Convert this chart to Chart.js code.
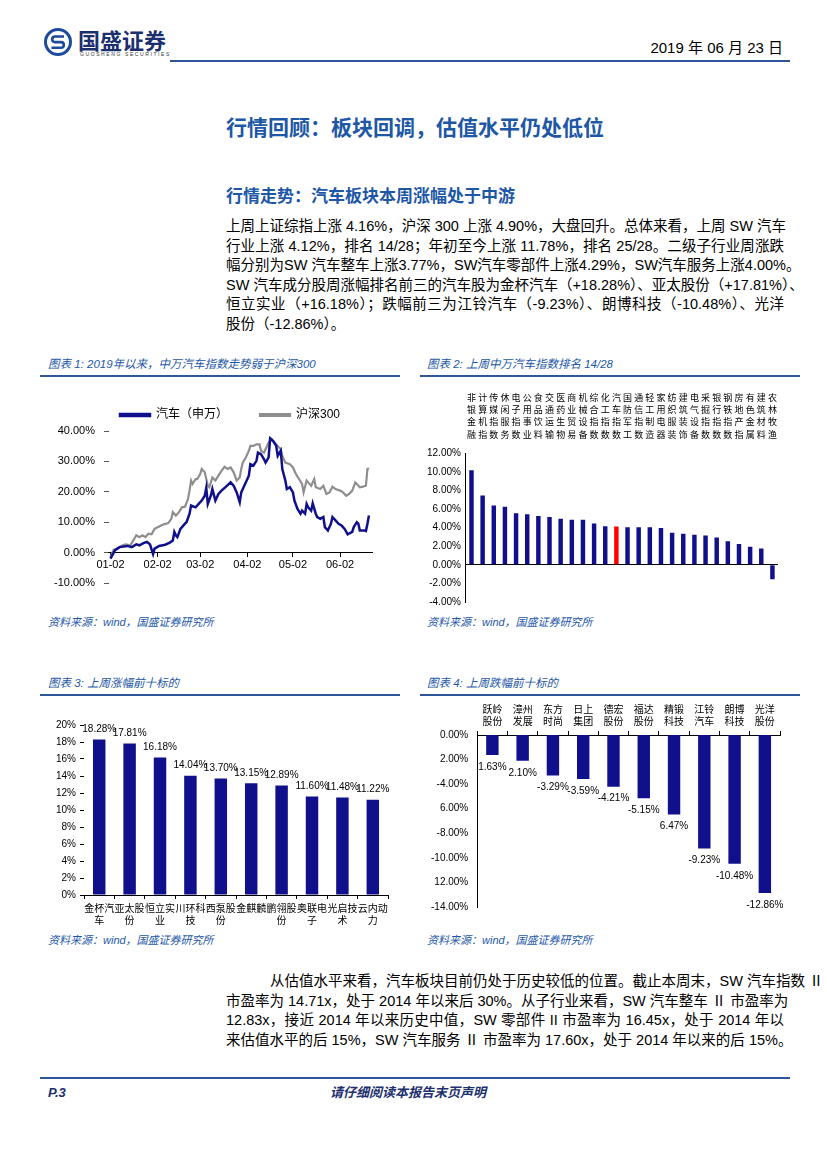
<!DOCTYPE html>
<html lang="zh-CN">
<head>
<meta charset="utf-8">
<title>汽车行业周报 P.3</title>
<script src="https://cdn.jsdelivr.net/npm/chart.js@4.4.1/dist/chart.umd.min.js"></script>
<style>
  html, body { margin: 0; padding: 0; background: #fff; }
  #page { position: relative; width: 827px; height: 1170px; overflow: hidden;
    font-family: "Liberation Sans", "Noto Sans CJK SC", sans-serif; color: #000; }
  .abs { position: absolute; white-space: nowrap; }
  .rule { position: absolute; height: 2px; background: #2d5597; }
  .title { left: 226px; top: 115px; font-size: 21px; line-height: 26px; font-weight: bold; color: #1d57a5; }
  .sub { left: 226px; top: 186px; font-size: 17px; line-height: 22px; font-weight: bold; color: #1d57a5; }
  .para { position: absolute; left: 226px; width: 558px; font-size: 14.5px; line-height: 19.5px; }
  .para div { white-space: nowrap; text-align: justify; text-align-last: justify; }
  .para div.last { text-align-last: left; }
  .cap { font-size: 11.5px; line-height: 14px; font-style: italic; color: #1d57a5; }
  .src { font-size: 11px; line-height: 14px; font-style: italic; color: #1d57a5; }
  canvas { position: absolute; }
</style>
</head>
<body>
<div id="page">
  <!-- header -->
  <svg class="abs" style="left:43px;top:27px" width="30" height="30" viewBox="0 0 30 30">
    <circle cx="15" cy="15" r="12.5" fill="none" stroke="#1d4b9b" stroke-width="3"/>
    <path d="M21 9.5 H12 a2.8 2.8 0 0 0 0 5.6 h6 a2.8 2.8 0 0 1 0 5.6 H8.5" fill="none" stroke="#1d4b9b" stroke-width="2.6"/>
  </svg>
  <div class="abs" style="left:78px;top:26px;font-size:22px;line-height:26px;font-weight:bold;color:#1c2f6e;font-family:'Noto Sans CJK SC'">国盛证券</div>
  <div class="abs" style="left:80px;top:51px;font-size:5px;line-height:6px;letter-spacing:1.6px;color:#333">GUOSHENG SECURITIES</div>
  <div class="abs" style="right:44px;top:39px;font-size:15px;line-height:18px">2019 年 06 月 23 日</div>
  <div class="rule" style="left:170px;top:60px;width:620px"></div>

  <div class="abs title">行情回顾：板块回调，估值水平仍处低位</div>
  <div class="abs sub">行情走势：汽车板块本周涨幅处于中游</div>

  <div class="para" style="top:217px">
    <div>上周上证综指上涨 4.16%，沪深 300 上涨 4.90%，大盘回升。总体来看，上周 SW 汽车</div>
    <div>行业上涨 4.12%，排名 14/28；年初至今上涨 11.78%，排名 25/28。二级子行业周涨跌</div>
    <div>幅分别为SW 汽车整车上涨3.77%，SW汽车零部件上涨4.29%，SW汽车服务上涨4.00%。</div>
    <div>SW 汽车成分股周涨幅排名前三的汽车股为金杯汽车（+18.28%）、亚太股份（+17.81%）、</div>
    <div>恒立实业（+16.18%）；跌幅前三为江铃汽车（-9.23%）、朗博科技（-10.48%）、光洋</div>
    <div class="last">股份（-12.86%）。</div>
  </div>

  <!-- chart captions -->
  <div class="abs cap" style="left:48px;top:357px">图表 1: 2019年以来，中万汽车指数走势弱于沪深300</div>
  <div class="abs cap" style="left:427px;top:357px">图表 2: 上周中万汽车指数排名 14/28</div>
  <div class="rule" style="left:40px;top:375px;width:360px"></div>
  <div class="rule" style="left:420px;top:375px;width:380px"></div>

  <canvas id="c1" width="360" height="222" style="left:40px;top:383px"></canvas>
  <canvas id="c2" width="380" height="229" style="left:420px;top:384px"></canvas>

  <div class="abs src" style="left:48px;top:615px">资料来源：wind，国盛证券研究所</div>
  <div class="abs src" style="left:427px;top:615px">资料来源：wind，国盛证券研究所</div>

  <div class="abs cap" style="left:48px;top:676px">图表 3: 上周涨幅前十标的</div>
  <div class="abs cap" style="left:427px;top:676px">图表 4: 上周跌幅前十标的</div>
  <div class="rule" style="left:40px;top:694px;width:360px"></div>
  <div class="rule" style="left:420px;top:694px;width:380px"></div>

  <canvas id="c3" width="360" height="231" style="left:40px;top:700px"></canvas>
  <canvas id="c4" width="380" height="236" style="left:420px;top:697px"></canvas>

  <div class="abs src" style="left:48px;top:933px">资料来源：wind，国盛证券研究所</div>
  <div class="abs src" style="left:427px;top:933px">资料来源：wind，国盛证券研究所</div>

  <div class="para" style="top:972px">
    <div style="padding-left:44px">从估值水平来看，汽车板块目前仍处于历史较低的位置。截止本周末，SW 汽车指数 Ⅱ</div>
    <div>市盈率为 14.71x，处于 2014 年以来后 30%。从子行业来看，SW 汽车整车 Ⅱ 市盈率为</div>
    <div>12.83x，接近 2014 年以来历史中值，SW 零部件 II 市盈率为 16.45x，处于 2014 年以</div>
    <div>来估值水平的后 15%，SW 汽车服务 Ⅱ 市盈率为 17.60x，处于 2014 年以来的后 15%。</div>
  </div>

  <!-- footer -->
  <div class="rule" style="left:40px;top:1077px;width:750px;height:1.5px"></div>
  <div class="abs" style="left:48px;top:1085px;font-size:13px;line-height:16px;font-weight:bold;font-style:italic;color:#1c2f6e">P.3</div>
  <div class="abs" style="left:330px;top:1085px;font-size:13px;line-height:16px;font-weight:bold;font-style:italic;color:#1c2f6e">请仔细阅读本报告末页声明</div>
</div>

<script>
// chart 1: cumulative change since 2019-01-02, x = calendar days after Jan 2
var monthDays = [0, 31, 59, 90, 120, 151];
var monthLabels = ["01-02", "02-02", "03-02", "04-02", "05-02", "06-02"];
var pctTicks1 = [-10, 0, 10, 20, 30, 40];

var autoDays = [0, 3, 6, 11, 14, 17, 19, 22, 24, 26, 28, 29, 32, 36, 39, 41, 42, 43, 44, 46,
  49, 50, 52, 53, 56, 58, 60, 62, 63, 64, 66, 67, 69, 71, 73, 76, 79, 81, 83, 85,
  86, 88, 91, 92, 94, 96, 97, 99, 101, 102, 104, 105, 107, 109, 110, 112, 113, 115, 116, 118,
  120, 121, 123, 125, 126, 128, 129, 130, 132, 133, 135, 136, 138, 140, 141, 143, 145, 146, 148, 150,
  152, 154, 156, 159, 160, 162, 163, 164, 167, 168, 169, 170];
var autoValues = [-2.0, 0.8, 1.8, 2.2, 1.8, 2.7, 2.4, 3.2, 3.5, 2.7, -0.5, 1.3, 2.2, 2.6, 3.3, 4.0, 6.8, 5.7, 5.1, 7.8,
  9.5, 10.0, 12.8, 15.5, 14.9, 16.0, 17.1, 18.7, 21.3, 16.0, 18.7, 20.9, 17.1, 19.3, 20.4, 21.7, 23.1, 22.0, 19.8, 16.6,
  19.8, 22.0, 25.3, 29.1, 28.6, 30.2, 32.9, 32.4, 30.7, 29.6, 31.3, 37.6, 36.7, 35.1, 31.8, 33.5, 27.5, 23.7, 20.9, 21.5,
  19.8, 17.1, 14.4, 12.8, 13.8, 12.8, 16.0, 14.9, 13.8, 16.2, 12.8, 11.7, 11.1, 11.7, 8.4, 7.3, 9.5, 11.7, 10.6, 9.5,
  8.9, 7.8, 6.0, 6.8, 8.4, 10.0, 9.5, 7.3, 7.3, 7.1, 9.5, 12.2];

var hsDays = [0, 2, 4, 8, 10, 13, 15, 17, 19, 21, 23, 25, 27, 29, 32, 35, 38, 40, 41, 43,
  45, 47, 49, 51, 52, 53, 54, 56, 57, 59, 60, 62, 64, 65, 66, 67, 69, 71, 73, 75,
  77, 79, 81, 83, 85, 86, 87, 89, 91, 92, 94, 96, 98, 99, 101, 102, 104, 106, 107, 110,
  112, 113, 115, 118, 120, 122, 124, 126, 127, 129, 130, 132, 134, 135, 138, 140, 142, 144, 146, 148,
  151, 153, 155, 157, 159, 161, 162, 164, 166, 168, 169, 170];
var hsValues = [-1.4, 0.8, 1.3, 2.4, 2.7, 2.4, 4.0, 5.7, 5.1, 5.7, 5.1, 6.2, 6.0, 7.8, 8.6, 9.3, 9.7, 11.1, 13.3, 12.2,
  13.3, 14.9, 15.1, 17.7, 20.4, 23.7, 22.6, 24.2, 24.2, 25.8, 27.5, 26.4, 22.0, 21.5, 23.1, 24.7, 23.7, 25.3, 26.9, 28.2,
  27.5, 28.0, 26.4, 23.7, 24.7, 27.5, 29.6, 31.3, 33.5, 35.1, 35.1, 35.6, 35.6, 33.5, 32.9, 34.0, 36.2, 37.3, 36.7, 35.1,
  34.0, 31.8, 29.6, 29.1, 28.0, 25.8, 24.2, 22.6, 19.8, 23.7, 23.1, 22.0, 24.2, 21.5, 20.9, 22.0, 19.3, 19.8, 21.7, 20.9,
  20.4, 19.8, 18.7, 19.3, 20.4, 23.1, 22.6, 21.5, 21.7, 22.0, 27.5, 27.8];

// chart 2: SW level-1 industries, weekly change (%)
var industryNames = ["非银金融", "计算机指", "传媒指数", "休闲服务", "电子指数", "公用事业", "食品饮料",
  "交通运输", "医药生物", "商业贸易", "机械设备", "综合指数", "化工指数", "汽车指数", "国防军工",
  "通信指数", "轻工制造", "家用电器", "纺织服装", "建筑装饰", "电气设备", "采掘指数", "银行指数",
  "钢铁指数", "房地产指", "有色金属", "建筑材料", "农林牧渔"];
var industryChanges = [10.17, 7.45, 6.38, 6.25, 5.55, 5.45, 5.25, 5.15, 4.95, 4.85, 4.85, 4.45, 4.15, 4.12,
  4.05, 4.05, 4.05, 3.95, 3.45, 3.35, 3.25, 3.15, 2.95, 2.55, 2.25, 1.95, 1.75, -1.55];

// chart 3: top 10 gainers (%)
var gainerNames = ["金杯汽车", "亚太股份", "恒立实业", "川环科技", "西泵股份", "金麒麟", "鹏翎股份",
  "奥联电子", "光启技术", "云内动力"];
var gainerChanges = [18.28, 17.81, 16.18, 14.04, 13.70, 13.15, 12.89, 11.60, 11.48, 11.22];

// chart 4: top 10 losers (%), labels as printed in the source
var loserNames = ["跃岭股份", "漳州发展", "东方时尚", "日上集团", "德宏股份", "福达股份", "精锻科技",
  "江铃汽车", "朗博科技", "光洋股份"];
var loserChanges = [-1.63, -2.10, -3.29, -3.59, -4.21, -5.15, -6.47, -9.23, -10.48, -12.86];
var loserValueLabels = ["1.63%", "2.10%", "-3.29%", "-3.59%", "-4.21%", "-5.15%", "6.47%", "-9.23%", "-10.48%", "-12.86%"];
var loserTickLabels = ["0.00%", "2.00%", "-4.00%", "6.00%", "-8.00%", "-10.00%", "12.00%", "-14.00%"];

var navy = "#10108c";
var grey = "#8e8e8e";
var red = "#ff0000";

Chart.defaults.font.family = '"Liberation Sans", "Noto Sans CJK SC", sans-serif';
Chart.defaults.color = "#000";
Chart.defaults.animation = false;
Chart.defaults.responsive = false;
Chart.defaults.plugins.tooltip.enabled = false;

// value labels on bars
var barLabels = {
  id: "barLabels",
  afterDatasetsDraw: function(chart, args, opts) {
    var ctx = chart.ctx;
    var meta = chart.getDatasetMeta(0);
    ctx.save();
    ctx.font = opts.size + 'px "Liberation Sans", sans-serif';
    ctx.fillStyle = "#000";
    ctx.textAlign = "center";
    ctx.textBaseline = opts.below ? "top" : "bottom";
    meta.data.forEach(function(bar, i) {
      var y = opts.below ? bar.y + opts.offset : bar.y - opts.offset;
      ctx.fillText(opts.texts[i], bar.x, y);
    });
    ctx.restore();
  }
};

new Chart(document.getElementById("c1"), {
  type: "line",
  data: {
    datasets: [
      {
        label: "汽车（申万）",
        data: autoDays.map(function(d, i) { return { x: d, y: autoValues[i] }; }),
        borderColor: navy,
        backgroundColor: navy,
        borderWidth: 2.5,
        pointRadius: 0,
        tension: 0
      },
      {
        label: "沪深300",
        data: hsDays.map(function(d, i) { return { x: d, y: hsValues[i] }; }),
        borderColor: grey,
        backgroundColor: grey,
        borderWidth: 2.2,
        pointRadius: 0,
        tension: 0
      }
    ]
  },
  options: {
    layout: { padding: { left: 5, right: 28, top: -6, bottom: 22 } },
    plugins: {
      legend: { align: "end", labels: { boxWidth: 30, boxHeight: 2, font: { size: 12 }, padding: 32 } }
    },
    scales: {
      x: {
        type: "linear",
        position: { y: 0 },
        min: -1,
        max: 172,
        afterBuildTicks: function(scale) {
          scale.ticks = monthDays.map(function(v) { return { value: v }; });
        },
        ticks: {
          callback: function(v) { return monthLabels[monthDays.indexOf(v)]; },
          font: { size: 11 },
          maxRotation: 0,
          autoSkip: false,
          padding: 2
        },
        grid: { drawOnChartArea: false, tickLength: 4, color: "#000" },
        border: { color: "#000" }
      },
      y: {
        min: -10,
        max: 40,
        afterBuildTicks: function(scale) {
          scale.ticks = pctTicks1.map(function(v) { return { value: v }; });
        },
        ticks: {
          callback: function(v) { return v.toFixed(2) + "%"; },
          font: { size: 11 },
          autoSkip: false,
          padding: 9
        },
        grid: { drawOnChartArea: false, tickLength: 5, color: "#555" },
        border: { display: false }
      }
    }
  }
});

new Chart(document.getElementById("c2"), {
  type: "bar",
  data: {
    labels: industryNames,
    datasets: [{
      data: industryChanges,
      backgroundColor: industryNames.map(function(n) { return n === "汽车指数" ? red : navy; }),
      barPercentage: 0.4,
      categoryPercentage: 1
    }]
  },
  options: {
    layout: { padding: { left: 2, right: 22, top: 4, bottom: 8 } },
    plugins: { legend: { display: false } },
    scales: {
      x: {
        position: "top",
        grid: { display: false },
        border: { display: false },
        ticks: {
          callback: function(v) { return this.getLabelForValue(v).split(""); },
          font: { size: 9, lineHeight: 1.37 },
          maxRotation: 0,
          autoSkip: false,
          padding: 4
        }
      },
      y: {
        min: -4,
        max: 12,
        ticks: {
          stepSize: 2,
          callback: function(v) { return v.toFixed(2) + "%"; },
          font: { size: 10 },
          padding: 5
        },
        grid: {
          color: function(c) { return c.tick && c.tick.value === 0 ? "#000" : "rgba(0,0,0,0)"; },
          drawTicks: false
        },
        border: { color: "#000" }
      }
    }
  }
});

new Chart(document.getElementById("c3"), {
  type: "bar",
  data: {
    labels: gainerNames,
    datasets: [{
      data: gainerChanges,
      backgroundColor: navy,
      barPercentage: 0.41,
      categoryPercentage: 1
    }]
  },
  plugins: [barLabels],
  options: {
    layout: { padding: { left: 12, right: 12, top: 25, bottom: 0 } },
    plugins: {
      legend: { display: false },
      barLabels: { texts: gainerChanges.map(function(v) { return v.toFixed(2) + "%"; }), size: 10, offset: 5, below: false }
    },
    scales: {
      x: {
        grid: { drawOnChartArea: false, tickLength: 4, color: "#000" },
        border: { color: "#000" },
        ticks: {
          callback: function(v) { var s = this.getLabelForValue(v); return [s.slice(0, 3), s.slice(3)]; },
          font: { size: 10, lineHeight: 1.2 },
          maxRotation: 0,
          autoSkip: false,
          padding: 4
        }
      },
      y: {
        min: 0,
        max: 20,
        ticks: {
          stepSize: 2,
          callback: function(v) { return v + "%"; },
          font: { size: 10 },
          padding: 4
        },
        grid: { drawOnChartArea: false, tickLength: 4, color: "#000" },
        border: { display: false }
      }
    }
  }
});

new Chart(document.getElementById("c4"), {
  type: "bar",
  data: {
    labels: loserNames,
    datasets: [{
      data: loserChanges,
      backgroundColor: navy,
      barPercentage: 0.41,
      categoryPercentage: 1
    }]
  },
  plugins: [barLabels],
  options: {
    layout: { padding: { left: 2, right: 20, top: 4, bottom: 26 } },
    plugins: {
      legend: { display: false },
      barLabels: { texts: loserValueLabels, size: 10, offset: 7, below: true }
    },
    scales: {
      x: {
        position: "top",
        grid: { drawOnChartArea: false, tickLength: 4, color: "#000" },
        border: { color: "#000" },
        ticks: {
          callback: function(v) { var s = this.getLabelForValue(v); return [s.slice(0, 2), s.slice(2)]; },
          font: { size: 10, lineHeight: 1.2 },
          maxRotation: 0,
          autoSkip: false,
          padding: 3
        }
      },
      y: {
        min: -14,
        max: 0,
        ticks: {
          stepSize: 2,
          callback: function(v) { return loserTickLabels[Math.round(-v / 2)]; },
          font: { size: 10 },
          padding: 9
        },
        grid: { display: false, drawTicks: false },
        border: { color: "#000" }
      }
    }
  }
});
</script>
</body>
</html>
